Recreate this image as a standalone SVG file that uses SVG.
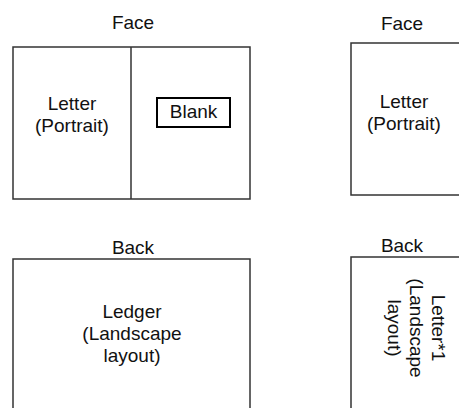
<svg xmlns="http://www.w3.org/2000/svg" width="459" height="408" viewBox="0 0 459 408">
<style>
.t{font-family:"Liberation Sans",Arial,sans-serif;font-size:19px;fill:#111;text-anchor:middle}
.page{fill:#fff;stroke:#333;stroke-width:1.5}
.blank{fill:#fff;stroke:#000;stroke-width:2}
</style>
<rect width="459" height="408" fill="#fff"/>
<g id="face-left">
<text class="t" x="133" y="29">Face</text>
<rect class="page" x="13" y="47" width="237" height="152"/>
<line x1="131" y1="47" x2="131" y2="199" stroke="#333" stroke-width="1.5"/>
<text class="t" x="72" y="110">Letter</text>
<text class="t" x="72" y="132">(Portrait)</text>
</g>
<g id="blank">
<rect class="blank" x="157" y="98" width="73" height="29"/>
<text class="t" x="193.5" y="118">Blank</text>
</g>
<g id="face-right">
<text class="t" x="402" y="30">Face</text>
<rect class="page" x="351" y="43" width="120" height="152"/>
<text class="t" x="404" y="108">Letter</text>
<text class="t" x="404" y="130">(Portrait)</text>
</g>
<g id="back-left">
<text class="t" x="133" y="254">Back</text>
<rect class="page" x="13" y="259" width="237" height="160"/>
<text class="t" x="132" y="318">Ledger</text>
<text class="t" x="132" y="340">(Landscape</text>
<text class="t" x="132" y="362">layout)</text>
</g>
<g id="back-right">
<text class="t" x="402" y="252">Back</text>
<rect class="page" x="351" y="257" width="120" height="160"/>
<g transform="translate(417 328) rotate(90)">
<text class="t" x="0" y="-15">Letter*1</text>
<text class="t" x="0" y="7">(Landscape</text>
<text class="t" x="0" y="29">layout)</text>
</g>
</g>
<g id="connectors"/>
</svg>
